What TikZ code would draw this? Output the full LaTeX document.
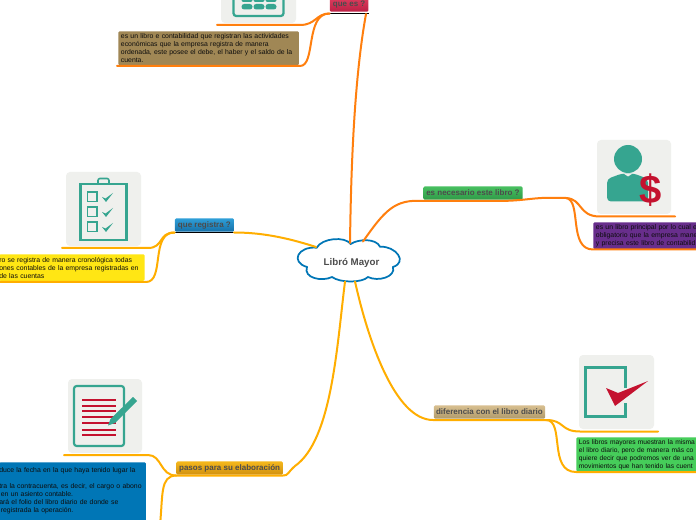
\documentclass[tikz,border=0pt]{standalone}
\usepackage{fontspec}
\setmainfont{Liberation Sans}
\usetikzlibrary{calc}
\definecolor{lineO}{HTML}{FF7F0E}
\definecolor{lineY}{HTML}{FFAE00}
\definecolor{teal1}{HTML}{36A590}
\definecolor{crim}{HTML}{C4122F}
\definecolor{tile}{HTML}{EFF0ED}
\definecolor{bodyA}{RGB}{160,135,85}
\definecolor{bodyB}{RGB}{255,230,20}
\definecolor{bodyC}{RGB}{0,118,182}
\definecolor{bodyD}{RGB}{104,46,140}
\definecolor{bodyE}{RGB}{70,205,90}
\definecolor{t1a}{HTML}{E04060}\definecolor{t1b}{HTML}{BC2045}
\definecolor{t2a}{HTML}{2F9FD8}\definecolor{t2b}{HTML}{1670A8}
\definecolor{t3a}{HTML}{F5B81C}\definecolor{t3b}{HTML}{D09010}
\definecolor{t4a}{HTML}{48C060}\definecolor{t4b}{HTML}{2F9A48}
\definecolor{t5a}{HTML}{D8BF90}\definecolor{t5b}{HTML}{B09A6A}
\tikzset{
 x=0.75pt,y=-0.75pt,
 body/.style={rounded corners=1pt,anchor=north west,inner sep=0pt,font=\fontsize{5.15}{6}\selectfont,align=left,text=black!95},
 topic/.style={rounded corners=1pt,inner sep=0pt,anchor=south west,minimum height=10pt,font=\fontsize{6}{7}\selectfont\bfseries,text=black!70},
 tileb/.style={fill=tile,rounded corners=3pt},
 conO/.style={draw=lineO,line width=1.5pt,line cap=round},
 conY/.style={draw=lineY,line width=1.5pt,line cap=round},
 iconline/.style={draw=teal1,line width=1.7pt},
}
\begin{document}
\begin{tikzpicture}
\useasboundingbox (0,0) rectangle (696,520);
\clip (0,0) rectangle (696,520);
\fill[white] (0,0) rectangle (696,520);
% ---- tiles
\fill[tileb] (221,-30) rectangle (296,23);
\fill[tileb] (66,172) rectangle (141,246);
\fill[tileb] (68,379) rectangle (142,453);
\fill[tileb] (597,140) rectangle (671,214);
\fill[tileb] (579,355) rectangle (654,429);
% ---- calendar icon
\draw[iconline,rounded corners=2pt] (233.5,-8) rectangle (283.5,16);
\foreach \x in {247,259,271}{\fill[teal1,rounded corners=1.5pt] (\x-5.5,-3) rectangle (\x+5.5,2);\fill[teal1,rounded corners=2pt] (\x-5.5,4) rectangle (\x+5.5,9.5);}
% ---- checklist icon
\draw[iconline] (80.5,184) rectangle (126.5,240);
\draw[teal1,line width=1.2pt,rounded corners=1.5pt] (98,183) -- (98,178.5) -- (109,178.5) -- (109,183);
\foreach \y in {192,207,222}{
 \draw[teal1,line width=1.2pt] (87.5,\y) rectangle (97,\y+9.5);
 \fill[teal1] (102,\y+5) -- (105.5,\y+6.5) -- (113,\y+1) -- (106,\y+10) -- cycle;}
% ---- document icon
\draw[teal1,line width=1.6pt,rounded corners=2pt] (74,386) rectangle (124,446);
\foreach \y/\w in {400/1.7,406/1.7,411/1.1,417/1.1,423/1.7,430/1.1,435/1.1}
 \draw[crim,line width=\w pt] (82,\y) -- (116,\y);
\fill[teal1] (133,397) -- (137,401) -- (115,423) -- (108,425.5) -- (110.5,419) -- cycle;
% ---- person icon
\fill[teal1] (628,159) circle (14);
\fill[teal1,rounded corners=3pt] (607,179) -- (622,173.5) -- (634,173.5) -- (648,179) -- (648,201.5) -- (607,201.5) -- cycle;
\fill[tile] (623.5,173.5) -- (628,176.5) -- (632.5,173.5) -- cycle;
\node[inner sep=0pt,text=crim,font=\fontsize{30}{30}\selectfont\bfseries] (dollar) at (650.5,190.5) {\$};
% ---- check icon
\draw[iconline] (625.5,388) -- (625.5,367.5) -- (585.5,367.5) -- (585.5,416.5) -- (625.5,416.5) -- (625.5,403);
\fill[crim] (606,388) -- (618,393) -- (648,381) -- (615,406) -- cycle;
% ---- body boxes
\node[body,fill=bodyA,text width=131.5pt,minimum height=25.5pt,inner xsep=2pt,inner ysep=1.5pt] (b1) at (118,31) {es un libro e contabilidad que registran las actividades\\económicas que la empresa registra de manera\\ordenada, este posee el debe, el haber y el saldo de la\\cuenta.};
\node[body,fill=bodyB,text width=109pt,minimum height=20pt,inner ysep=1.5pt] (b2) at (-1,254) {ro se registra de manera cronológica todas\\ones contables de la empresa registradas en\\de las cuentas};
\node[body,fill=bodyC,text width=110pt,minimum height=48pt,inner ysep=0.3pt] (b3) at (-1,462) {duce la fecha en la que haya tenido lugar la\\\phantom{x}\\tra la contracuenta, es decir, el cargo o abono\\\hspace{1.2pt}en un asiento contable.\\ará el folio del libro diario de donde se\\\hspace{1.2pt}registrada la operación.\\\phantom{x}};
\node[body,fill=bodyD,text width=90pt,minimum height=20pt,inner xsep=2pt,inner ysep=1.5pt] (b4) at (593,222) {es un libro principal por lo cual e\\obligatorio que la empresa mane\\y precisa este libro de contabilid};
\node[body,fill=bodyE,text width=100pt,minimum height=25pt,inner xsep=2pt,inner ysep=1.5pt,font=\fontsize{5}{6}\selectfont] (b5) at (576,437) {Los libros mayores muestran la misma\\el libro diario, pero de manera más co\\quiere decir que podremos ver de una\\movimientos que han tenido las cuent};
% ---- topics
\node[topic,top color=t1a,bottom color=t1b,minimum width=29pt,minimum height=11.5pt] (t1) at (329.5,12) {que es ?};
\node[topic,top color=t2a,bottom color=t2b,minimum width=44.5pt] (t2) at (174.5,232) {que registra ?};
\node[topic,top color=t3a,bottom color=t3b,minimum width=80pt] (t3) at (176,475) {pasos para su elaboración};
\node[topic,top color=t4a,bottom color=t4b,minimum width=74.5pt] (t4) at (423,200) {es necesario este libro ?};
\node[topic,top color=t5a,bottom color=t5b,minimum width=83.5pt] (t5) at (433.5,419) {diferencia con el libro diario};
% ---- root cloud
\draw[draw=bodyC,fill=white,line width=1.3pt] (316.7,247.7)
 .. controls (322,238) and (345,236) .. (350.7,244)
 .. controls (358,239) and (376,238) .. (380,246.7)
 .. controls (396,246) and (408,262) .. (393,267)
 .. controls (396,277) and (378,282) .. (368,277)
 .. controls (362,283) and (340,283) .. (332,277)
 .. controls (322,282) and (303,278) .. (307,267)
 .. controls (290,262) and (298,246) .. cycle;
\node[inner sep=0pt,font=\fontsize{7.3}{8}\selectfont\bfseries,text=black!70] (root) at (351.5,262.5) {Libró Mayor};
% ---- coordinates
\coordinate (r1) at (350,243);
\coordinate (r4) at (363,241.5);
\coordinate (r2) at (316,247);
\coordinate (r3) at (345,281.5);
\coordinate (r5) at (355,281.5);
\coordinate (e1a) at (217,25);
\coordinate (e1b) at (117,66);
\coordinate (e2a) at (62,248);
\coordinate (e2b) at (-2,282);
\coordinate (e3a) at (64,455);
\coordinate (e3b) at (160,525);
\coordinate (e4a) at (675,216.5);
\coordinate (e4b) at (698,249.5);
\coordinate (e5a) at (658,431.5);
\coordinate (e5b) at (698,472);
% ---- black underlines
\draw[black,line width=1.3pt] (329.5,13.5) -- (369,13.5);
\draw[black,line width=1.3pt] (174.5,232.5) -- (234.5,232.5);
% ---- connectors
\draw[conO] (r1) .. controls (351,170) and (354,80) .. (366,14);
\draw[conO] (e1a) -- (300,25) .. controls (316,25) and (316,13.5) .. (329.5,13.5);
\draw[conO] (e1b) -- (300,66) .. controls (316,66) and (305,13.5) .. (329.5,13.5);
\draw[conO] (r4) .. controls (385,210) and (395,199) .. (423,201) -- (497,201) .. controls (525,201) and (535,197) .. (553,198) -- (566,198);
\draw[conO] (566,198) .. controls (583,199) and (578,216.5) .. (600,216.5) -- (e4a);
\draw[conO] (566,198) .. controls (582,200) and (568,249.5) .. (593,249.5) -- (e4b);
\draw[conY] (r2) .. controls (285,237) and (260,232.5) .. (234,232.5);
\draw[conY] (e2a) -- (148,248) .. controls (164,248) and (158,232.5) .. (174.5,232.5);
\draw[conY] (e2b) -- (146,282) .. controls (165,282) and (150,232.5) .. (174.5,232.5);
\draw[conY] (r3) .. controls (337,345) and (332,440) .. (295,466) .. controls (288,472) and (288,476) .. (283,475.5) -- (176,475.5);
\draw[conY] (e3a) -- (148,455) .. controls (162,455) and (160,475.5) .. (176,475.5);
\draw[conY] (176,475.5) .. controls (160,476) and (163,495) .. (e3b);
\draw[conY] (r5) .. controls (368,340) and (395,420) .. (433,420) -- (546,420);
\draw[conY] (546,420) .. controls (565,420) and (560,431.5) .. (580,431.5) -- (e5a);
\draw[conY] (546,420) .. controls (565,420) and (548,472) .. (576,472) -- (e5b);
\end{tikzpicture}
\end{document}
